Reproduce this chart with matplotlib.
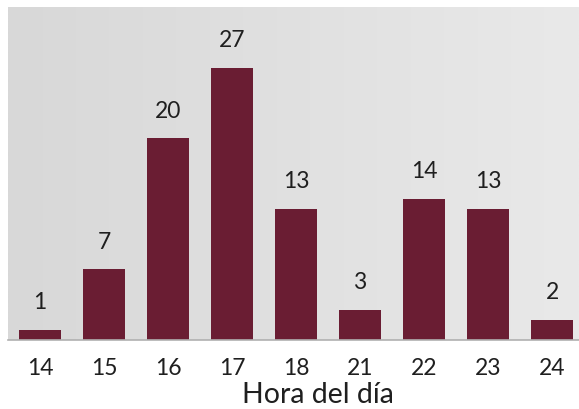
import matplotlib
matplotlib.use("Agg")
import matplotlib.pyplot as plt
import numpy as np
from matplotlib.colors import LinearSegmentedColormap

hours = ["14", "15", "16", "17", "18", "21", "22", "23", "24"]
counts = [1, 7, 20, 27, 13, 3, 14, 13, 2]

plt.rcParams['font.family'] = ['Lato', 'DejaVu Sans']

W, H = 579, 409
fig = plt.figure(figsize=(W/100, H/100), dpi=100)
ax = fig.add_axes([8/W, (H-340)/H, 1-8/W, 333/H])

x = np.arange(len(hours))
ax.set_xlim(-0.5, 8.42)
ax.set_ylim(0, 33)

grad = np.linspace(0, 1, 256).reshape(1, -1)
cmap = LinearSegmentedColormap.from_list("g", ["#d8d8d8", "#e9e9e9"])
ax.imshow(grad, cmap=cmap, aspect='auto', extent=[-0.5, 8.42, 0, 33], zorder=0)

ax.bar(x, counts, width=0.656, color="#6a1d33", zorder=2)
for xi, c in zip(x, counts):
    ax.text(xi, c + 1.65, str(c), ha='center', va='bottom', fontsize=16.5,
            color='#1f1f1f')

ax.set_xticks(x)
ax.set_xticklabels(hours, fontsize=16.5, color='#1f1f1f')
ax.tick_params(axis='x', length=0, pad=13)
ax.set_yticks([])
for s in ['top', 'right', 'left']:
    ax.spines[s].set_visible(False)
ax.spines['bottom'].set_color('#b0b0b0')
ax.spines['bottom'].set_linewidth(1.2)
ax.set_xlabel("Hora del día", fontsize=20.5, color='#1f1f1f')
ax.xaxis.set_label_coords((318 - 8) / (W - 8), -0.125)

fig.savefig("out.png", dpi=100)
